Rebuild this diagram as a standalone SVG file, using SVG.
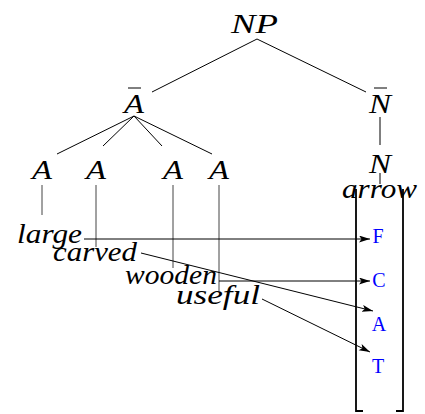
<svg xmlns="http://www.w3.org/2000/svg" width="425" height="414" viewBox="0 0 425 414">
<defs>
<style>
.m{font-family:"Liberation Serif","Times New Roman",serif;font-style:italic;font-size:28px;fill:#000}
.b{font-family:"Liberation Serif","Times New Roman",serif;font-size:20px;fill:#0000ff}
.e{stroke:#000;stroke-width:1;fill:none}
.v{stroke:#444;stroke-width:1;fill:none}
.a{stroke:#000;stroke-width:1;fill:none;marker-end:url(#ah)}
.br{stroke:#000;stroke-width:1.8;fill:none}
</style>
<marker id="ah" markerUnits="userSpaceOnUse" markerWidth="12" markerHeight="8" refX="11" refY="3.5" orient="auto">
<path d="M0,0 L11,3.5 L0,7 L2.5,3.5 z" fill="#000"/>
</marker>
</defs>
<rect width="425" height="414" fill="#fff"/>
<g id="connectors">
<line class="e" x1="257" y1="39" x2="152" y2="92"/>
<line class="e" x1="257" y1="39" x2="366" y2="92"/>
<line class="e" x1="134" y1="116" x2="57" y2="154"/>
<line class="e" x1="134" y1="116" x2="103" y2="146"/>
<line class="e" x1="134" y1="116" x2="162" y2="146"/>
<line class="e" x1="134" y1="116" x2="212" y2="154"/>
<line class="e" x1="380" y1="117" x2="380" y2="145"/>
<line class="e" x1="380" y1="173" x2="380" y2="184"/>
<line class="v" x1="42" y1="185" x2="42" y2="215"/>
<line class="v" x1="96" y1="185" x2="96" y2="247"/>
<line class="v" x1="173" y1="185" x2="173" y2="268"/>
<line class="v" x1="219" y1="185" x2="219" y2="291"/>
<line class="a" x1="84" y1="239" x2="370" y2="239"/>
<line class="a" x1="141" y1="253" x2="373" y2="311"/>
<line class="a" x1="219" y1="281" x2="370" y2="281"/>
<line class="a" x1="262" y1="299" x2="370" y2="352"/>
</g>
<g id="NP"><text class="m" x="231" y="33" textLength="47" lengthAdjust="spacingAndGlyphs">NP</text></g>
<g id="Abar"><text class="m" x="124" y="113" textLength="20" lengthAdjust="spacingAndGlyphs">A</text><line class="e" x1="128" y1="88" x2="141" y2="88"/></g>
<g id="Nbar"><text class="m" x="369" y="113" textLength="22" lengthAdjust="spacingAndGlyphs">N</text><line class="e" x1="374" y1="88" x2="387" y2="88"/></g>
<g id="A1"><text class="m" x="32" y="179" textLength="20" lengthAdjust="spacingAndGlyphs">A</text></g>
<g id="A2"><text class="m" x="86" y="179" textLength="20" lengthAdjust="spacingAndGlyphs">A</text></g>
<g id="A3"><text class="m" x="163" y="179" textLength="20" lengthAdjust="spacingAndGlyphs">A</text></g>
<g id="A4"><text class="m" x="209" y="179" textLength="20" lengthAdjust="spacingAndGlyphs">A</text></g>
<g id="N"><text class="m" x="369" y="173" textLength="22" lengthAdjust="spacingAndGlyphs">N</text></g>
<g id="arrow"><text class="m" x="342" y="198" textLength="75" lengthAdjust="spacingAndGlyphs">arrow</text></g>
<g id="large"><text class="m" x="17" y="243" textLength="65" lengthAdjust="spacingAndGlyphs">large</text></g>
<g id="carved"><text class="m" x="53" y="261" textLength="84" lengthAdjust="spacingAndGlyphs">carved</text></g>
<g id="wooden"><text class="m" x="125" y="284" textLength="92" lengthAdjust="spacingAndGlyphs">wooden</text></g>
<g id="useful"><text class="m" x="176" y="304" textLength="84" lengthAdjust="spacingAndGlyphs">useful</text></g>
<g id="matrix">
<path class="br" d="M363,411 L356,411 L356,189"/>
<path class="br" d="M396,411 L403,411 L403,189"/>
<text class="b" x="378" y="243" text-anchor="middle">F</text>
<text class="b" x="379" y="287" text-anchor="middle">C</text>
<text class="b" x="379" y="331" text-anchor="middle">A</text>
<text class="b" x="378" y="373" text-anchor="middle">T</text>
</g>
</svg>
